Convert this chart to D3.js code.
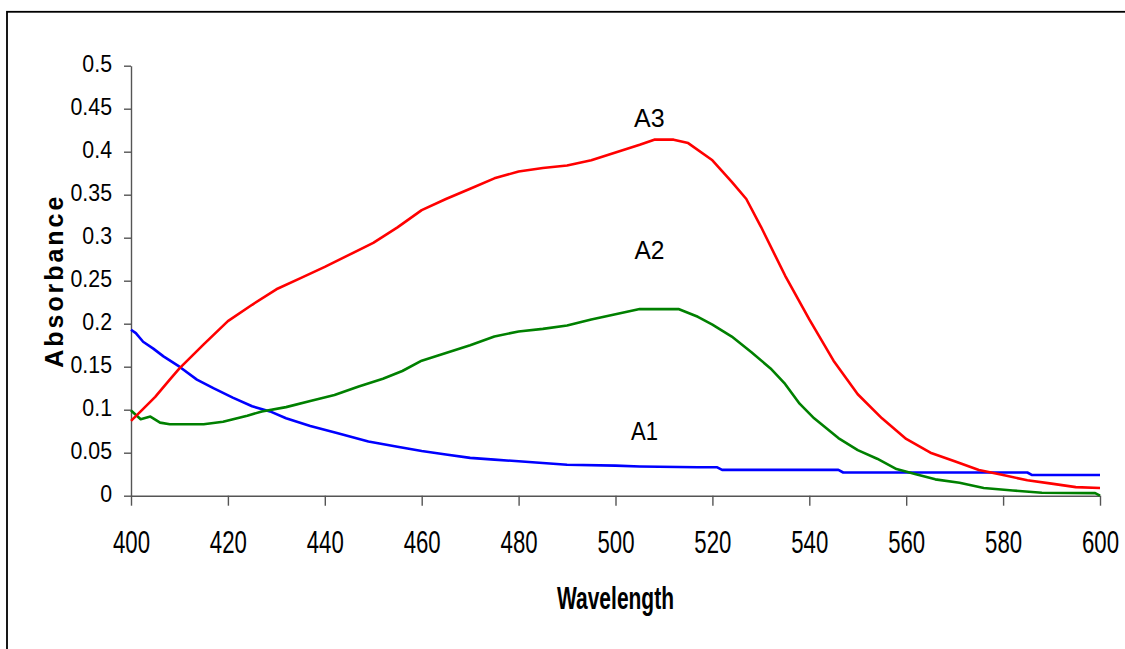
<!DOCTYPE html>
<html>
<head>
<meta charset="utf-8">
<script src="https://cdn.jsdelivr.net/npm/d3@7/dist/d3.min.js"></script>
<style>
  html, body { margin: 0; padding: 0; background: #fff; }
  svg { display: block; }
  text { font-family: "Liberation Sans", Arial, Helvetica, sans-serif; fill: #000; }
</style>
</head>
<body>
<svg id="chart" width="1125" height="649"></svg>
<script>
// ---- Data ----
const xTicks = [400, 420, 440, 460, 480, 500, 520, 540, 560, 580, 600];
const yTicks = [0, 0.05, 0.1, 0.15, 0.2, 0.25, 0.3, 0.35, 0.4, 0.45, 0.5];
const yTickLabels = ["0", "0.05", "0.1", "0.15", "0.2", "0.25", "0.3", "0.35", "0.4", "0.45", "0.5"];

const a1Wavelength = [400, 401, 402.5, 404.6, 406.7, 410, 413.6, 417, 421, 425, 428.7, 432, 437, 442.5, 449, 455, 460, 465, 470, 475, 480, 485, 490, 500, 505, 517, 521, 522, 546, 547, 585, 586, 600];
const a1Values     = [0.193, 0.189, 0.179, 0.171, 0.162, 0.150, 0.135, 0.125, 0.114, 0.104, 0.098, 0.090, 0.081, 0.073, 0.063, 0.057, 0.052, 0.048, 0.044, 0.042, 0.040, 0.038, 0.036, 0.035, 0.034, 0.033, 0.033, 0.030, 0.030, 0.027, 0.027, 0.024, 0.024];

const a2Wavelength = [400, 402, 404, 406, 408, 415, 419, 424, 427, 432, 437, 442, 447, 452, 456, 460, 465, 470, 475, 480, 485, 490, 495, 500, 505, 513, 517, 520, 524, 528, 532, 535, 538, 541, 546, 550, 554, 558, 562, 566, 571, 576, 582, 588, 599, 600];
const a2Values     = [0.099, 0.089, 0.092, 0.085, 0.083, 0.083, 0.086, 0.093, 0.098, 0.103, 0.110, 0.117, 0.127, 0.136, 0.145, 0.157, 0.166, 0.175, 0.185, 0.191, 0.194, 0.198, 0.205, 0.211, 0.217, 0.217, 0.208, 0.199, 0.185, 0.167, 0.148, 0.130, 0.107, 0.090, 0.067, 0.053, 0.043, 0.031, 0.025, 0.019, 0.015, 0.009, 0.006, 0.0035, 0.003, 0.0];

const a3Wavelength = [400, 402, 405, 408, 410, 415, 420, 425, 430, 435, 440, 445, 450, 455, 460, 465, 470, 475, 480, 485, 490, 495, 500, 505, 508, 512, 515, 520, 524, 527, 530, 535, 540, 545, 550, 555, 560, 565, 570, 575, 580, 585, 590, 595, 600];
const a3Values     = [0.087, 0.098, 0.115, 0.135, 0.148, 0.176, 0.203, 0.222, 0.240, 0.253, 0.266, 0.280, 0.294, 0.312, 0.332, 0.345, 0.357, 0.369, 0.377, 0.381, 0.384, 0.390, 0.399, 0.408, 0.414, 0.414, 0.410, 0.390, 0.365, 0.345, 0.313, 0.256, 0.205, 0.157, 0.118, 0.090, 0.066, 0.050, 0.040, 0.030, 0.024, 0.018, 0.014, 0.010, 0.009];

const seriesNames  = ["A1", "A2", "A3"];
const seriesColors = ["#0000ff", "#008000", "#ff0000"];

// ---- Layout ----
const svg = d3.select("#chart");
const plot = { left: 131, right: 1100, top: 65.7, bottom: 495.7 };

svg.append("rect")
  .attr("x", 7).attr("y", 11.8)
  .attr("width", 1140).attr("height", 660)
  .attr("fill", "none").attr("stroke", "#000").attr("stroke-width", 1.8);

const x = d3.scaleLinear().domain([400, 600]).range([plot.left, plot.right]);
const y = d3.scaleLinear().domain([0, 0.5]).range([plot.bottom, plot.top]);

const axisColor = "#555";

// Y axis
const yAxis = svg.append("g")
  .attr("transform", `translate(${plot.left},0)`)
  .call(d3.axisLeft(y).tickValues(yTicks).tickSize(7).tickSizeOuter(0)
        .tickFormat((d, i) => yTickLabels[i]));
yAxis.select(".domain").attr("stroke", axisColor).attr("stroke-width", 1.4);
yAxis.selectAll(".tick line").attr("stroke", axisColor).attr("stroke-width", 1.4);
const ySx = 0.87;
yAxis.selectAll(".tick text")
  .attr("font-size", 24.5)
  .attr("font-family", "Liberation Sans, Arial, sans-serif")
  .attr("transform", `scale(${ySx},1)`)
  .attr("x", -19 / ySx)
  .attr("dy", 0)
  .attr("y", 5.3)
  .attr("fill", "#000");

// X axis
const xAxis = svg.append("g")
  .attr("transform", `translate(0,${plot.bottom})`)
  .call(d3.axisBottom(x).tickValues(xTicks).tickSize(10).tickSizeOuter(0)
        .tickFormat(d3.format("d")));
xAxis.select(".domain").attr("stroke", axisColor).attr("stroke-width", 1.4);
xAxis.selectAll(".tick line").attr("stroke", axisColor).attr("stroke-width", 1.4);
xAxis.selectAll(".tick text")
  .attr("font-size", 31.5)
  .attr("font-family", "Liberation Sans, Arial, sans-serif")
  .attr("transform", "scale(0.705,1)")
  .attr("y", 57)
  .attr("dy", 0)
  .attr("fill", "#000");

// Lines
const line = d3.line().x(d => x(d[0])).y(d => y(d[1]));
const seriesData = [
  d3.zip(a1Wavelength, a1Values),
  d3.zip(a2Wavelength, a2Values),
  d3.zip(a3Wavelength, a3Values)
];
svg.append("g").selectAll("path")
  .data(seriesData)
  .join("path")
  .attr("d", line)
  .attr("fill", "none")
  .attr("stroke", (d, i) => seriesColors[i])
  .attr("stroke-width", 2.6)
  .attr("stroke-linejoin", "round");

// Series labels
const labelPos = [
  { w: 506, v: (plot.bottom - 440) / 430 * 0.5, len: 27 },
  { w: 507, v: (plot.bottom - 259.3) / 430 * 0.5, len: 30 },
  { w: 507, v: (plot.bottom - 126.7) / 430 * 0.5, len: 30.6 }
];
svg.append("g").selectAll("text")
  .data(seriesNames)
  .join("text")
  .attr("x", (d, i) => x(labelPos[i].w))
  .attr("y", (d, i) => y(labelPos[i].v))
  .attr("text-anchor", "middle")
  .attr("font-size", 25.5)
  .attr("textLength", (d, i) => labelPos[i].len)
  .attr("lengthAdjust", "spacingAndGlyphs")
  .text(d => d);

// Axis titles
svg.append("text")
  .attr("x", (plot.left + plot.right) / 2)
  .attr("y", 609.3)
  .attr("text-anchor", "middle")
  .attr("font-size", 31.5)
  .attr("font-weight", "bold")
  .attr("textLength", 117)
  .attr("lengthAdjust", "spacingAndGlyphs")
  .text("Wavelength");

svg.append("text")
  .attr("transform", `translate(63,${(plot.top + plot.bottom) / 2 + 1.5}) rotate(-90)`)
  .attr("x", 0).attr("y", 0)
  .attr("text-anchor", "middle")
  .attr("font-size", 25)
  .attr("font-weight", "bold")
  .attr("textLength", 171)
  .attr("lengthAdjust", "spacing")
  .text("Absorbance");
</script>
</body>
</html>
